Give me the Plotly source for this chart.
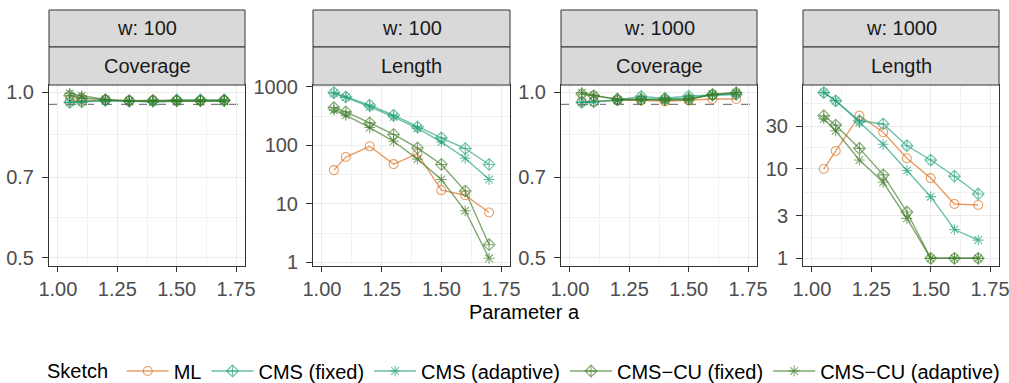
import plotly.graph_objects as go

# ---------------- data ----------------
a_values = [1.05, 1.1, 1.2, 1.3, 1.4, 1.5, 1.6, 1.7]
sketch_names = ["ML", "CMS (fixed)", "CMS (adaptive)", "CMS\u2212CU (fixed)", "CMS\u2212CU (adaptive)"]
strip_w = ["w: 100", "w: 100", "w: 1000", "w: 1000"]
strip_metric = ["Coverage", "Length", "Coverage", "Length"]
nominal_coverage = 0.95

cov_w100_ml = [0.965, 0.965, 0.968, 0.965, 0.966, 0.965, 0.965, 0.966]
cov_w100_cms_fixed = [0.958, 0.960, 0.966, 0.963, 0.963, 0.968, 0.968, 0.968]
cov_w100_cms_adaptive = [0.958, 0.961, 0.964, 0.962, 0.960, 0.962, 0.963, 0.963]
cov_w100_cmscu_fixed = [0.986, 0.975, 0.969, 0.965, 0.966, 0.965, 0.965, 0.966]
cov_w100_cmscu_adaptive = [0.995, 0.985, 0.970, 0.963, 0.961, 0.962, 0.962, 0.963]

len_w100_ml = [37.6, 63, 96, 47.6, 72, 17.1, 14, 7.1]
len_w100_cms_fixed = [796, 670, 483, 326, 206, 134, 88, 47]
len_w100_cms_adaptive = [765, 660, 452, 305, 194, 114, 60, 26]
len_w100_cmscu_fixed = [440, 372, 241, 153, 90, 47, 16.5, 2.0]
len_w100_cmscu_adaptive = [398, 326, 201, 117, 58, 26, 7.6, 1.17]

cov_w1000_ml = [0.962, 0.962, 0.966, 0.966, 0.962, 0.966, 0.972, 0.972]
cov_w1000_cms_fixed = [0.958, 0.960, 0.968, 0.982, 0.975, 0.984, 0.988, 0.990]
cov_w1000_cms_adaptive = [0.958, 0.960, 0.966, 0.972, 0.970, 0.975, 0.988, 0.992]
cov_w1000_cmscu_fixed = [0.992, 0.985, 0.972, 0.970, 0.970, 0.972, 0.990, 0.998]
cov_w1000_cmscu_adaptive = [0.998, 0.988, 0.968, 0.968, 0.966, 0.968, 0.992, 0.998]

len_w1000_ml = [10, 15.9, 39.5, 25.8, 13.2, 7.9, 4.05, 3.95]
len_w1000_cms_fixed = [71.6, 58, 34.7, 31.9, 18.2, 12.6, 8.3, 5.25]
len_w1000_cms_adaptive = [72, 58, 33.3, 18.9, 9.6, 4.9, 2.1, 1.6]
len_w1000_cmscu_fixed = [39.5, 31, 17, 8.6, 3.3, 1.0, 1.0, 1.0]
len_w1000_cmscu_adaptive = [36.3, 26.8, 12.6, 7.1, 2.8, 1.0, 1.0, 1.0]

panel_series = [
    [cov_w100_ml, cov_w100_cms_fixed, cov_w100_cms_adaptive, cov_w100_cmscu_fixed, cov_w100_cmscu_adaptive],
    [len_w100_ml, len_w100_cms_fixed, len_w100_cms_adaptive, len_w100_cmscu_fixed, len_w100_cmscu_adaptive],
    [cov_w1000_ml, cov_w1000_cms_fixed, cov_w1000_cms_adaptive, cov_w1000_cmscu_fixed, cov_w1000_cmscu_adaptive],
    [len_w1000_ml, len_w1000_cms_fixed, len_w1000_cms_adaptive, len_w1000_cmscu_fixed, len_w1000_cmscu_adaptive],
]

x_ticks = [1.00, 1.25, 1.50, 1.75]
x_tick_text = ["1.00", "1.25", "1.50", "1.75"]
x_minor = [1.125, 1.375, 1.625]
cov_ticks = [0.5, 0.7, 1.0]
cov_tick_text = ["0.5", "0.7", "1.0"]
cov_minor = [0.5916, 0.8367]
len100_ticks = [1, 10, 100, 1000]
len100_tick_text = ["1", "10", "100", "1000"]
len100_minor = [3.162, 31.62, 316.2]
len1000_ticks = [1, 3, 10, 30]
len1000_tick_text = ["1", "3", "10", "30"]
len1000_minor = [1.732, 5.477, 17.32, 54.77]

# ---------------- style ----------------
W, H = 1009, 383
colors = ["rgba(217,95,2,0.6)", "rgba(27,158,119,0.65)", "rgba(27,158,119,0.65)",
          "rgba(59,122,36,0.65)", "rgba(59,122,36,0.65)"]
symbols = ["circle-open", "diamond-cross-open", "asterisk-open", "diamond-cross-open", "asterisk-open"]
panel_x = [(49, 245), (313, 510), (561, 757), (803, 999)]
panel_top, panel_bot = 85, 266
strip1_top, strip_mid = 10, 47
y_ranges = [[-0.316, 0.013], [-0.063, 3.03], [-0.316, 0.013], [-0.086, 1.94]]
y_tick_sets = [(cov_ticks, cov_tick_text, cov_minor), (len100_ticks, len100_tick_text, len100_minor),
               (cov_ticks, cov_tick_text, cov_minor), (len1000_ticks, len1000_tick_text, len1000_minor)]
FONT = "Liberation Sans, Arial, sans-serif"
FS = 20

def px(v):
    return v / W

def py(v):
    return 1 - v / H

fig = go.Figure()
layout = dict(
    width=W, height=H, margin=dict(l=0, r=0, t=0, b=0, autoexpand=False),
    paper_bgcolor="white", plot_bgcolor="white",
    font=dict(family=FONT, size=FS, color="black"),
    showlegend=True,
)
shapes = []
annotations = []

for p in range(4):
    sfx = "" if p == 0 else str(p + 1)
    xa, ya = "x" + sfx, "y" + sfx
    for s in range(5):
        fig.add_trace(go.Scatter(
            x=a_values, y=panel_series[p][s], mode="lines+markers",
            name=sketch_names[s], legendgroup=sketch_names[s], showlegend=(p == 0),
            line=dict(color=colors[s], width=1.4),
            marker=dict(symbol=symbols[s], size=9, color=colors[s], line=dict(width=1.1, color=colors[s])),
            xaxis=xa, yaxis=ya,
        ))
    x0, x1 = panel_x[p]
    ticks, ticktext, minor = y_tick_sets[p]
    layout["xaxis" + sfx] = dict(
        domain=[px(x0), px(x1)], anchor=ya, range=[0.9625, 1.7875], automargin=False,
        tickvals=x_ticks, ticktext=x_tick_text, ticks="outside", ticklen=5, tickwidth=1,
        tickcolor="#333333", tickfont=dict(size=FS, color="#4D4D4D"), ticklabeloverflow="allow",
        showgrid=True, gridcolor="#EBEBEB", gridwidth=1.3, zeroline=False,
        showline=True, mirror=True, linecolor="#333333", linewidth=1,
        minor=dict(tickvals=x_minor, showgrid=True, gridcolor="#F2F2F2", gridwidth=0.7, ticks=""),
    )
    layout["yaxis" + sfx] = dict(
        domain=[py(panel_bot), py(panel_top)], anchor=xa, type="log", range=y_ranges[p], automargin=False,
        tickvals=ticks, ticktext=ticktext, ticks="outside", ticklen=6, tickwidth=1,
        tickcolor="#333333", tickfont=dict(size=FS, color="#4D4D4D"), ticklabelstandoff=4,
        ticklabeloverflow="allow",
        showgrid=True, gridcolor="#EBEBEB", gridwidth=1.3, zeroline=False,
        showline=True, mirror=True, linecolor="#333333", linewidth=1,
        minor=dict(tickvals=minor, showgrid=True, gridcolor="#F2F2F2", gridwidth=0.7, ticks=""),
    )
    if strip_metric[p] == "Coverage":
        shapes.append(dict(type="line", xref=xa + " domain", yref=ya, x0=0, x1=1,
                           y0=nominal_coverage, y1=nominal_coverage,
                           line=dict(color="#7F7F7F", width=1.4, dash="dash"), layer="below"))
    # strips
    for (t, b, label) in [(strip1_top, strip_mid, strip_w[p]), (strip_mid, panel_top, strip_metric[p])]:
        shapes.append(dict(type="rect", xref="paper", yref="paper", x0=px(x0), x1=px(x1),
                           y0=py(b), y1=py(t), fillcolor="#D9D9D9",
                           line=dict(color="#333333", width=1)))
        annotations.append(dict(text=label, xref="paper", yref="paper", x=px((x0 + x1) / 2),
                                y=py((t + b) / 2), showarrow=False, xanchor="center", yanchor="middle",
                                font=dict(size=FS, color="#1A1A1A")))

annotations.append(dict(text="Parameter a", xref="paper", yref="paper", x=px(524), y=py(312),
                        showarrow=False, xanchor="center", yanchor="middle",
                        font=dict(size=FS, color="black")))

layout["shapes"] = shapes
layout["annotations"] = annotations
layout["legend"] = dict(orientation="h", x=px(525), xanchor="center", y=py(371), yanchor="middle",
                        title=dict(text="Sketch ", side="left", font=dict(size=FS)),
                        font=dict(size=FS), bgcolor="rgba(0,0,0,0)", itemwidth=42)
fig.update_layout(**layout)
fig.write_html("out.html", config={"displayModeBar": False},
               post_script="document.body.style.margin='0px';")
